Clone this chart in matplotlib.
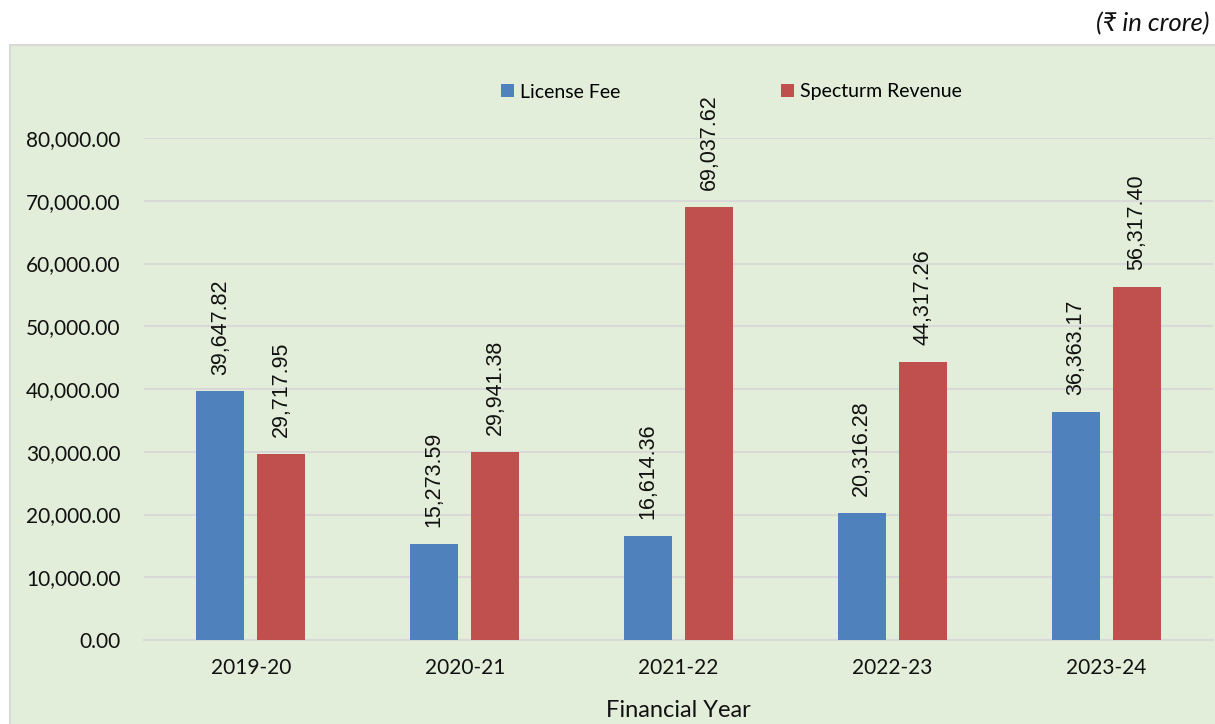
import matplotlib.pyplot as plt
import matplotlib.patches as patches
from matplotlib.ticker import FuncFormatter

# Revenue per financial year (Rs crore)
years = ['2019-20', '2020-21', '2021-22', '2022-23', '2023-24']
license_fee = [39647.82, 15273.59, 16614.36, 20316.28, 36363.17]
spectrum_rev = [29717.95, 29941.38, 69037.62, 44317.26, 56317.40]

blue = '#4F81BD'
red = '#C0504D'
bg = '#E2EED9'
grid = '#D9D9D9'

fig = plt.figure(figsize=(12.15, 7.24), dpi=100)

# green chart area box
box = patches.Rectangle((10 / 1215, -0.01), 1.0, (724 - 45) / 724 + 0.01,
                        transform=fig.transFigure, facecolor=bg,
                        edgecolor=grid, linewidth=1.5, zorder=-10)
fig.patches.append(box)

ax = fig.add_axes([144 / 1215, 84 / 724, (1213 - 144) / 1215, (640 - 138) / 724])
ax.set_facecolor('none')
ax.set_zorder(1)

x = list(range(len(years)))
w = 0.225
off = 0.1425
b1 = ax.bar([i - off for i in x], license_fee, width=w, color=blue, label='License Fee', zorder=3)
b2 = ax.bar([i + off for i in x], spectrum_rev, width=w, color=red, label='Specturm Revenue', zorder=3)

for bars, vals in [(b1, license_fee), (b2, spectrum_rev)]:
    for rect, v in zip(bars, vals):
        ax.annotate(f'{v:,.2f}', (rect.get_x() + rect.get_width() / 2, v),
                    xytext=(0, 12), textcoords='offset points',
                    rotation=90, ha='center', va='bottom', fontsize=15.5,
                    family='Liberation Sans', color='#111111',
                    annotation_clip=False, zorder=4)

ax.set_xlim(-0.5, 4.5)
ax.set_ylim(0, 80000)
ax.set_yticks(range(0, 80001, 10000))
ax.yaxis.set_major_formatter(FuncFormatter(lambda v, p: f'{v:,.2f}'))
ax.set_xticks(x)
ax.set_xticklabels(years)
ax.grid(axis='y', color=grid, linewidth=1.5, zorder=0)
ax.set_axisbelow(True)
for s in ['top', 'right', 'left']:
    ax.spines[s].set_visible(False)
ax.spines['bottom'].set_color(grid)
ax.spines['bottom'].set_linewidth(1.5)
ax.tick_params(axis='both', length=0, labelsize=15, labelcolor='#111111')
ax.tick_params(axis='y', pad=17)
ax.tick_params(axis='x', pad=13)
for lbl in ax.get_xticklabels() + ax.get_yticklabels():
    lbl.set_family('Lato')

ax.set_xlabel('Financial Year', fontsize=17, family='Lato', color='#111111', labelpad=16)

leg = fig.legend(handles=[b1, b2], loc='center', bbox_to_anchor=(731.5 / 1215, 1 - 92 / 724),
                 ncol=2, frameon=False, prop={'family': 'Lato', 'size': 14},
                 handlelength=0.65, handleheight=0.65, handletextpad=0.3, columnspacing=8.3)
leg.set_zorder(5)

fig.text(1210 / 1215, 1 - 24 / 724, '(₹ in crore)', ha='right', va='center',
         fontsize=18.5, style='italic', family=['Lato', 'DejaVu Sans'], color='#111111')

fig.savefig('out.png', dpi=100)
